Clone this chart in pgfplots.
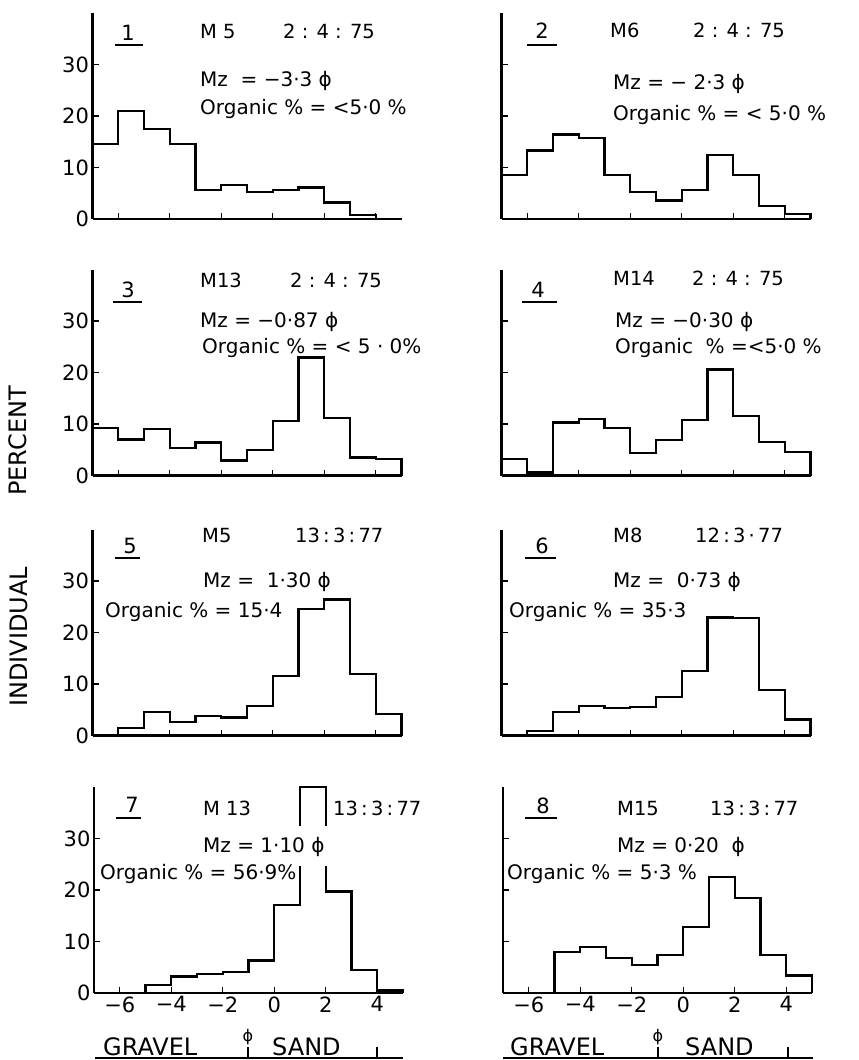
\documentclass[border=0pt]{standalone}
\usepackage{fontspec}
\setmainfont{DejaVu Sans}
\usepackage{pgfplots}
\pgfplotsset{compat=1.18}
\newcommand\fa{\fontsize{19.5}{19.5}\selectfont}
\newcommand\fn{\fontsize{21}{21}\selectfont}
\newcommand\fb{\fontsize{20}{20}\selectfont}
\newcommand\fc{\fontsize{24}{24}\selectfont}
\pgfplotsset{
  hist/.style={
    scale only axis, width=309pt, height=206pt,
    xmin=-7, xmax=5, ymin=0, ymax=40,
    axis x line=bottom, axis y line=left,
    axis line style={-, line width=2.2pt, black},
    xtick={-6,-4,-2,0,2,4}, ytick={10,20,30},
    xticklabels={}, yticklabels={},
    tick align=inside, major tick length=6pt,
    every tick/.style={line width=1.4pt, black},
    anchor=south west, clip=false,
    ticklabel style={font=\fontsize{21}{21}\selectfont},
  },
  leftc/.style={ytick={0,10,20,30}, yticklabels={0,10,20,30}},
  bot/.style={xticklabels={−6,−4,−2,0,2,4}},
  hl/.style={const plot, black, line width=2.2pt, mark=none},
}
\begin{document}
\begin{tikzpicture}
\path[use as bounding box] (0pt,0pt) rectangle (859pt,-1060pt);
% Panel 1
\begin{axis}[hist, leftc, at={(92.5pt,-219pt)}]
\addplot[hl] coordinates {(-7,14.5)(-6,21.0)(-5,17.5)(-4,14.5)(-3,5.6)(-2,6.6)(-1,5.2)(0,5.6)(1,6.1)(2,3.2)(3,0.7)(4,0)};
\end{axis}
% Panel 2
\begin{axis}[hist, at={(501.5pt,-219pt)}]
\addplot[hl] coordinates {(-7,8.6)(-6,13.3)(-5,16.4)(-4,15.7)(-3,8.5)(-2,5.2)(-1,3.6)(0,5.6)(1,12.5)(2,8.6)(3,2.5)(4,1.0)(5,0)};
\end{axis}
% Panel 3
\begin{axis}[hist, leftc, at={(92.5pt,-475.5pt)}]
\addplot[hl] coordinates {(-7,9.2)(-6,7.0)(-5,9.0)(-4,5.4)(-3,6.4)(-2,2.9)(-1,5.0)(0,10.6)(1,22.9)(2,11.1)(3,3.5)(4,3.2)(5,0)};
\end{axis}
% Panel 4
\begin{axis}[hist, at={(501.5pt,-475.5pt)}]
\addplot[hl] coordinates {(-7,3.2)(-6,0.6)(-5,10.3)(-4,10.9)(-3,9.3)(-2,4.4)(-1,6.9)(0,10.8)(1,20.6)(2,11.5)(3,6.5)(4,4.6)(5,0)};
\end{axis}
% Panel 5
\begin{axis}[hist, leftc, at={(92.5pt,-735.5pt)}]
\addplot[hl] coordinates {(-6,0)(-6,1.4)(-5,4.6)(-4,2.6)(-3,3.8)(-2,3.5)(-1,5.8)(0,11.5)(1,24.6)(2,26.4)(3,12.0)(4,4.1)(5,0)};
\end{axis}
% Panel 6
\begin{axis}[hist, at={(501.5pt,-735.5pt)}]
\addplot[hl] coordinates {(-6,0)(-6,0.8)(-5,4.5)(-4,5.8)(-3,5.3)(-2,5.6)(-1,7.4)(0,12.6)(1,22.9)(2,22.8)(3,8.8)(4,3.1)(5,0)};
\end{axis}
% Panel 7
\begin{axis}[hist, leftc, bot, at={(94pt,-993pt)}]
\addplot[hl] coordinates {(-5,0)(-5,1.5)(-4,3.2)(-3,3.7)(-2,4.1)(-1,6.3)(0,17.1)(1,40)(2,19.7)(3,4.5)(4,0.5)(5,0)};
\end{axis}
% Panel 8
\begin{axis}[hist, bot, at={(503pt,-993pt)}]
\addplot[hl] coordinates {(-5,0)(-5,7.9)(-4,9.0)(-3,6.8)(-2,5.4)(-1,7.4)(0,12.8)(1,22.6)(2,18.5)(3,7.4)(4,3.4)(5,0)};
\end{axis}
\begin{scope}[x=1pt,y=1pt]
% gap in panel 7 bar
\fill[white] (296,-826) rectangle (331,-866);
\tikzset{tw/.style={anchor=base west, inner sep=0pt}, tn/.style={anchor=base, inner sep=0pt, font=\fn}}
% Panel 1 text
\node[tn] at (128,-40) {1}; \draw[line width=1.3pt] (115,-45) -- (143,-45);
\node[tw,font=\fa] at (200,-38) {M 5};
\node[tw,font=\fa] at (283,-38) {2 : 4 : 75};
\node[tw,font=\fb] at (200,-86) {Mz\ \ = −3·3 ϕ};
\node[tw,font=\fb] at (200,-114) {Organic \% = <5·0 \%};
% Panel 2 text
\node[tn] at (542,-38) {2}; \draw[line width=1.3pt] (527,-45) -- (557,-45);
\node[tw,font=\fa] at (610,-37) {M6};
\node[tw,font=\fa] at (693,-37) {2 : 4 : 75};
\node[tw,font=\fb] at (613,-89) {Mz\ = − 2·3 ϕ};
\node[tw,font=\fb] at (613,-120) {Organic \% = < 5·0 \%};
% Panel 3 text
\node[tn] at (128,-297) {3}; \draw[line width=1.3pt] (113,-302) -- (142,-302);
\node[tw,font=\fa] at (200,-287) {M13};
\node[tw,font=\fa] at (290,-287) {2 : 4 : 75};
\node[tw,font=\fb] at (200,-327) {Mz = −0·87 ϕ};
\node[tw,font=\fb] at (202,-353) {Organic \% = < 5 · 0\%};
% Panel 4 text
\node[tn] at (538,-297) {4}; \draw[line width=1.3pt] (522,-302) -- (557,-302);
\node[tw,font=\fa] at (613,-285) {M14};
\node[tw,font=\fa] at (692,-285) {2 : 4 : 75};
\node[tw,font=\fb] at (615,-327) {Mz = −0·30 ϕ};
\node[tw,font=\fb] at (615,-353) {Organic \ \% =<5·0 \%};
% Panel 5 text
\node[tn] at (130,-553) {5}; \draw[line width=1.3pt] (115,-558) -- (140,-558);
\node[tw,font=\fa] at (202,-542) {M5};
\node[tw,font=\fa] at (295,-542) {13\,:\,3\,:\,77};
\node[tw,font=\fb] at (203,-587) {Mz = \ 1·30 ϕ};
\node[tw,font=\fb] at (105,-617) {Organic \% = 15·4};
% Panel 6 text
\node[tn] at (542,-553) {6}; \draw[line width=1.3pt] (525,-558) -- (556,-558);
\node[tw,font=\fa] at (613,-542) {M8};
\node[tw,font=\fa] at (695,-542) {12\,:\,3\,·\,77};
\node[tw,font=\fb] at (613,-587) {Mz = \ 0·73 ϕ};
\node[tw,font=\fb] at (509,-617) {Organic \% = 35·3};
% Panel 7 text
\node[tn] at (132,-812) {7}; \draw[line width=1.3pt] (116,-818) -- (141,-818);
\node[tw,font=\fa] at (203,-815) {M 13};
\node[tw,font=\fa] at (333,-815) {13\,:\,3\,:\,77};
\node[tw,font=\fb] at (203,-852) {Mz = 1·10 ϕ};
\node[tw,font=\fb] at (100,-879) {Organic \% = 56·9\%};
% Panel 8 text
\node[tn] at (543,-813) {8}; \draw[line width=1.3pt] (525,-818) -- (557,-818);
\node[tw,font=\fa] at (617,-815) {M15};
\node[tw,font=\fa] at (710,-815) {13\,:\,3\,:\,77};
\node[tw,font=\fb] at (617,-852) {Mz = 0·20 \ ϕ};
\node[tw,font=\fb] at (507,-879) {Organic \% = 5·3 \%};
% bottom annotations
\draw[line width=2pt] (95,-1058) -- (403,-1058);
\draw[line width=1.5pt] (248,-1058) -- (248,-1047) (377,-1058) -- (377,-1047);
\node[tw,font=\fc] at (103,-1055.5) {GRAVEL};
\node[tw,font=\fc] at (272,-1055.5) {SAND};
\node[anchor=center,inner sep=0pt,font=\fontsize{16}{16}\selectfont] at (248,-1037) {ϕ};
\draw[line width=2pt] (503,-1058) -- (813,-1058);
\draw[line width=1.5pt] (658,-1058) -- (658,-1047) (788,-1058) -- (788,-1047);
\node[tw,font=\fc] at (510,-1055.5) {GRAVEL};
\node[tw,font=\fc] at (685,-1055.5) {SAND};
\node[anchor=center,inner sep=0pt,font=\fontsize{16}{16}\selectfont] at (658,-1037) {ϕ};
% side label
\node[rotate=90,font=\fc,inner sep=0pt] at (18,-441) {PERCENT};
\node[rotate=90,font=\fc,inner sep=0pt] at (19,-637) {INDIVIDUAL};
\end{scope}
\end{tikzpicture}
\end{document}
